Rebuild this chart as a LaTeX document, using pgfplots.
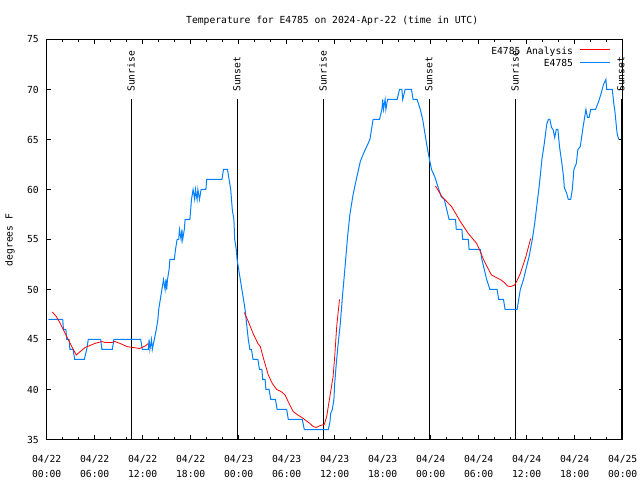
\documentclass[border=0pt]{standalone}
\usepackage{pgfplots}
\pgfplotsset{compat=1.18}
\usepackage{fontspec}
\setmainfont{DejaVu Sans Mono}
\definecolor{gblue}{RGB}{0,128,255}
\definecolor{gred}{RGB}{255,0,0}
\begin{document}
\begin{tikzpicture}[font=\fontsize{9.7bp}{12bp}\selectfont]
\path[use as bounding box] (0,0) rectangle (640bp,480bp);
\begin{axis}[
  at={(46.7bp,40.5bp)}, anchor=south west,
  width=576bp, height=400bp, scale only axis,
  xmin=0, xmax=72, ymin=35, ymax=75,
  xtick={0,6,...,72},
  xticklabels={{04/22\\00:00},{04/22\\06:00},{04/22\\12:00},{04/22\\18:00},{04/23\\00:00},{04/23\\06:00},{04/23\\12:00},{04/23\\18:00},{04/24\\00:00},{04/24\\06:00},{04/24\\12:00},{04/24\\18:00},{04/25\\00:00}},
  minor x tick num=2,
  ytick={35,40,...,75},
  tick align=inside,
  major tick length=4bp, minor tick length=2.5bp,
  tick style={black, line width=0.75bp},
  axis line style={black, line width=0.75bp},
  /pgf/number format/assume math mode=true,
  xticklabel style={align=center, anchor=north, inner sep=0pt, yshift=-15.5bp, font=\fontsize{9.7bp}{15bp}\selectfont},
  yticklabel style={anchor=east, inner sep=0pt, xshift=-7.7bp},
  legend plot pos=right,
  legend cell align=right,
  reverse legend,
  legend image code/.code={\draw[#1] (0bp,0bp) -- (29.3bp,0bp);},
  legend style={draw=none, fill=none, at={(axis description cs:0.978,0.986)}, anchor=north east, inner sep=0pt, outer sep=0pt, row sep=3.4bp, column sep=6.7bp, nodes={inner sep=0pt, text height=9bp, text depth=0bp}},
  clip=false,
]
% sunrise / sunset lines
\addplot[black, line width=0.75bp, forget plot] coordinates {(10.53,35) (10.53,69.05)};
\addplot[black, line width=0.75bp, forget plot] coordinates {(23.78,35) (23.78,69.05)};
\addplot[black, line width=0.75bp, forget plot] coordinates {(34.53,35) (34.53,69.05)};
\addplot[black, line width=0.75bp, forget plot] coordinates {(47.78,35) (47.78,69.05)};
\addplot[black, line width=0.75bp, forget plot] coordinates {(58.53,35) (58.53,69.05)};
\addplot[black, line width=0.75bp, forget plot] coordinates {(71.78,35) (71.78,69.05)};
\node[rotate=90, anchor=west, inner sep=0pt] at (axis cs:10.53,69.75) {Sunrise};
\node[rotate=90, anchor=west, inner sep=0pt] at (axis cs:23.78,69.75) {Sunset};
\node[rotate=90, anchor=west, inner sep=0pt] at (axis cs:34.53,69.75) {Sunrise};
\node[rotate=90, anchor=west, inner sep=0pt] at (axis cs:47.78,69.75) {Sunset};
\node[rotate=90, anchor=west, inner sep=0pt] at (axis cs:58.53,69.75) {Sunrise};
\node[rotate=90, anchor=west, inner sep=0pt] at (axis cs:71.78,69.75) {Sunset};
% observations
\addplot[gblue, line width=1bp] table {
0.2 47
2.0 47
2.1 46
2.4 46
2.5 45
2.8 45
2.9 44
3.3 44
3.5 43
4.7 43
5.0 44
5.2 45
6.75 45
6.9 44
8.2 44
8.4 45
11.75 45
11.95 44
12.7 44
12.8 45
12.9 44
13.1 45
13.2 44
13.45 45
13.7 46
13.9 47
14.0 48
14.2 49
14.4 50
14.6 51
14.8 50
14.9 51
15.0 50
15.1 51
15.3 52
15.4 53
15.95 53
16.1 54
16.3 55
16.5 55
16.6 56
16.8 55
16.9 56
17.0 55
17.2 56
17.3 57
17.9 57
18.0 58
18.1 59
18.3 60
18.5 59
18.6 60
18.8 59
18.9 60
19.1 59
19.3 60
19.9 60
20.0 61
21.9 61
22.1 62
22.6 62
22.8 61
23.0 60
23.2 58
23.4 57
23.5 55
23.7 54
23.8 53
24.0 52
24.2 51
24.4 50
24.6 49
24.8 48
25.0 46.5
25.2 45
25.4 44
25.6 44
25.8 43
26.4 43
26.6 42
26.9 42
27.0 41
27.3 41
27.4 40
27.8 40
28.0 39
28.6 39
28.8 38
30.0 38
30.2 37
31.95 37
32.2 36
35.2 36
35.4 36.7
35.5 37.6
35.7 38
35.9 39
36.0 40.6
36.2 42.6
36.4 44.3
36.7 46.6
37.0 49.6
37.3 52.3
37.6 55.2
37.9 57.5
38.3 59.5
38.7 61
39.2 62.8
39.6 63.6
40.0 64.3
40.4 65
40.6 66
40.8 67
41.6 67
41.9 68
42.0 69
42.1 68
42.3 69
42.4 68
42.6 69
43.8 69
44.1 70
44.4 70
44.5 69
44.8 70
45.6 70
45.8 69
46.3 69
46.7 68
47.0 67
47.2 66
47.5 64.5
47.8 63.2
48.1 62
48.5 61.3
48.9 60.3
49.3 59.3
49.7 59
50.0 58
50.3 57
51.1 57
51.2 56
51.9 56
52.0 55
52.7 55
52.8 54
54.2 54
54.4 53
54.7 52
55.0 51
55.4 50
56.3 50
56.5 49
57.1 49
57.3 48
58.8 48
59.0 49
59.2 50
59.6 51
59.9 52
60.3 53.3
60.7 55
61.0 56.6
61.3 58.6
61.6 60.6
61.9 63
62.2 64.6
62.5 66.5
62.7 67
62.9 67
63.1 66.2
63.3 66
63.5 65.2
63.7 66
63.9 66
64.1 64.3
64.4 62.6
64.6 61.3
64.7 60.2
65.0 59.6
65.2 59
65.5 59
65.7 60
65.9 62
66.2 62.6
66.4 64
66.7 64.3
67.0 66
67.3 67.5
67.4 68
67.6 67.2
67.8 67.2
68.0 68
68.6 68
69.0 68.8
69.3 69.6
69.6 70.5
69.9 71
70.0 70
70.7 70
70.9 68.5
71.0 68
71.3 65.6
71.5 65
};
\addlegendentry{E4785}
% analysis
\addplot[gred, line width=0.8bp] table {
0.7 47.75
1.2 47.3
1.7 46.6
2.2 45.8
2.7 45.0
3.2 44.2
3.7 43.45
4.2 43.8
4.8 44.2
5.4 44.4
6.0 44.6
6.9 44.8
7.3 44.7
8.1 44.7
8.5 44.8
9.2 44.6
10.0 44.3
10.8 44.2
11.6 44.1
11.9 44.2
12.4 44.4
12.7 44.6
};
\addlegendentry{E4785 Analysis}
\addplot[gred, line width=0.8bp, forget plot] table {
24.7 47.7
25.2 46.8
25.8 45.6
26.4 44.6
26.7 44.3
27.1 43.1
27.7 41.45
28.2 40.6
28.75 40.0
29.3 39.8
29.8 39.45
30.3 38.6
30.8 37.8
31.3 37.5
31.9 37.2
32.4 36.9
32.9 36.6
33.3 36.3
33.7 36.2
34.2 36.4
34.7 36.5
35.0 37.3
35.4 39.3
35.8 41.3
36.0 43.3
36.25 46.3
36.6 49.0
};
\addplot[gred, line width=0.8bp, forget plot] table {
48.6 60.35
49.4 59.3
50.0 58.8
50.6 58.3
51.2 57.5
51.7 56.8
52.7 55.6
53.75 54.6
54.2 53.8
54.6 53.0
55.1 52.2
55.6 51.45
56.2 51.2
56.7 51.0
57.2 50.7
57.6 50.35
58.0 50.3
58.5 50.45
58.8 50.9
59.2 51.6
59.9 53.3
60.5 55.1
};
\end{axis}
\node[anchor=base] at (332.2bp,456bp) {Temperature for E4785 on 2024-Apr-22 (time in UTC)};
\node[rotate=90] at (10bp,240bp) {degrees F};
\end{tikzpicture}
\end{document}
